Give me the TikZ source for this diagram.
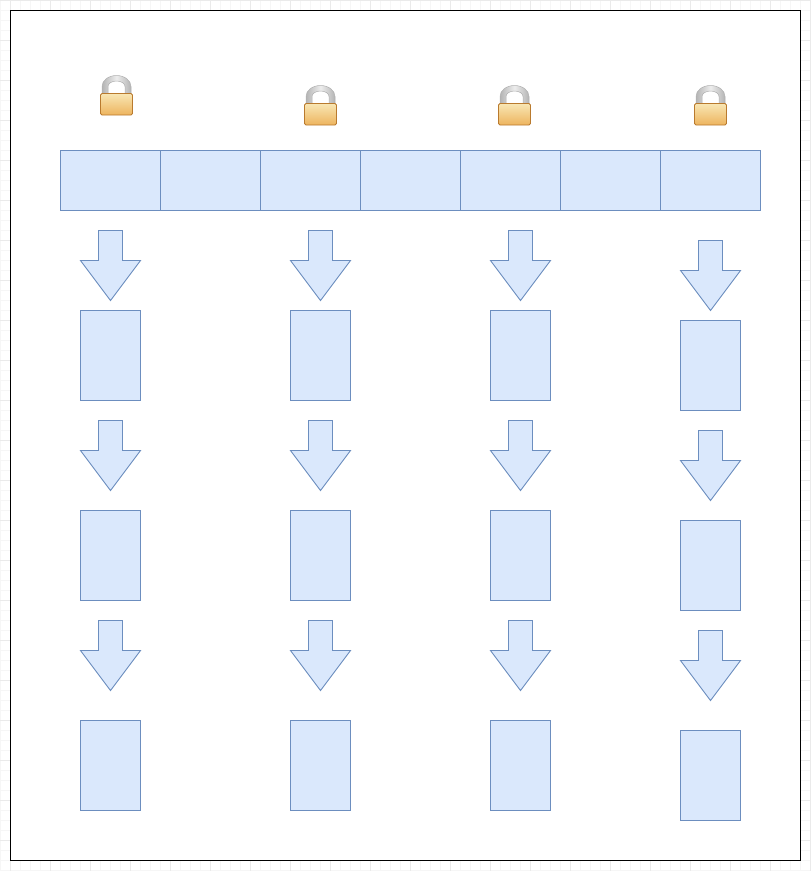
\documentclass[tikz,border=0pt]{standalone}
\usetikzlibrary{calc}
\definecolor{boxfill}{HTML}{DAE8FC}
\definecolor{boxline}{HTML}{6C8EBF}
\definecolor{gridminor}{HTML}{F6F6F6}
\definecolor{gridmajor}{HTML}{EAEAEA}
\definecolor{locktop}{HTML}{F8E6B4}
\definecolor{lockbot}{HTML}{EDB45E}
\definecolor{lockedge}{HTML}{B97A2E}
\definecolor{shackleedge}{HTML}{8E8E8E}
\definecolor{shacklemid}{HTML}{EDEDED}
\definecolor{shackleside}{HTML}{B4B4B4}
\tikzset{
  cellbox/.style={draw=boxline,fill=boxfill,line width=0.9pt,minimum width=100pt,minimum height=60pt,inner sep=0pt,outer sep=0pt},
  tallbox/.style={draw=boxline,fill=boxfill,line width=0.9pt,minimum width=60pt,minimum height=90pt,inner sep=0pt,outer sep=0pt},
  downarrow/.style={draw=boxline,fill=boxfill,line width=0.9pt,line join=miter},
  frameline/.style={draw=black,line width=1.1pt,fill=white},
  lockpic/.pic={
    \path[left color=shackleside,right color=shackleside,middle color=shacklemid]
      (-14.5,1) -- (-14.5,-7) arc[start angle=180,end angle=0,x radius=14.5,y radius=-11] -- (14.5,1) -- (8.5,1) -- (8.5,-7)
      arc[start angle=0,end angle=180,x radius=8.5,y radius=-5.5] -- (-8.5,1) -- cycle;
    \path[draw=shackleedge!70,line width=0.5pt]
      (-14.5,0) -- (-14.5,-7) arc[start angle=180,end angle=0,x radius=14.5,y radius=-11] -- (14.5,0);
    \path[draw=shackleedge!70,line width=0.5pt]
      (-8.5,0) -- (-8.5,-7) arc[start angle=180,end angle=0,x radius=8.5,y radius=-5.5] -- (8.5,0);
    \path[draw=lockedge,line width=0.8pt,rounded corners=1.5pt,top color=locktop,bottom color=lockbot]
      (-16,0) rectangle (16,21.5);
  }
}
\begin{document}
\begin{tikzpicture}[x=1pt,y=-1pt]
\useasboundingbox (0,0) rectangle (811,871);
% background grid
\foreach \k in {0,...,81}{\draw[gridminor,line width=0.8pt] (\k*10,0) -- (\k*10,871);}
\foreach \k in {0,...,87}{\draw[gridminor,line width=0.8pt] (0,\k*10) -- (811,\k*10);}
\foreach \k in {0,...,20}{\draw[gridmajor,line width=0.8pt] (10+\k*40,0) -- (10+\k*40,871);}
\foreach \k in {0,...,21}{\draw[gridmajor,line width=0.8pt] (0,\k*40) -- (811,\k*40);}
% frame
\path[frameline] (10.5,10.5) rectangle (800.5,860.5);
% locks
\pic at (116.5,93.5) {lockpic};
\pic at (320.5,103.5) {lockpic};
\pic at (514.5,103.5) {lockpic};
\pic at (710.5,103.5) {lockpic};
% top row
\foreach \i in {0,...,6}{\node[cellbox] (cell\i) at (110.5+\i*100,180.5) {};}
% columns: name / centre x / arrow tops and box tops
\foreach \c/\x/\aa/\ab/\ac/\ba/\bb/\bc in {
  a/110.5/230.5/420.5/620.5/355.5/555.5/765.5,
  b/320.5/230.5/420.5/620.5/355.5/555.5/765.5,
  c/520.5/230.5/420.5/620.5/355.5/555.5/765.5,
  d/710.5/240.5/430.5/630.5/365.5/565.5/775.5}{
  \node[tallbox] (\c1) at (\x,\ba) {};
  \node[tallbox] (\c2) at (\x,\bb) {};
  \node[tallbox] (\c3) at (\x,\bc) {};
  \foreach \t in {\aa,\ab,\ac}{
    \path[downarrow] (\x-12,\t) -- (\x+12,\t) -- (\x+12,\t+30) -- (\x+30,\t+30)
      -- (\x,\t+70) -- (\x-30,\t+30) -- (\x-12,\t+30) -- cycle;
  }
}
\end{tikzpicture}
\end{document}
